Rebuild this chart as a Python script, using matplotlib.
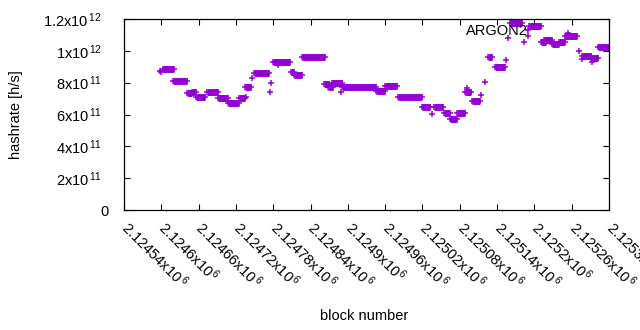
import matplotlib
matplotlib.use('Agg')
import matplotlib.pyplot as plt
from matplotlib.transforms import ScaledTranslation

plt.rcParams['font.family'] = ['Liberation Sans', 'DejaVu Sans']
plt.rcParams['mathtext.fontset'] = 'custom'
plt.rcParams['mathtext.rm'] = 'Liberation Sans'
plt.rcParams['mathtext.it'] = 'Liberation Sans:italic'

# runs of consecutive blocks with the same estimated hashrate
run_start = [2124603, 2124619, 2124642, 2124650, 2124656, 2124673, 2124691, 2124707,
             2124725, 2124735, 2124749, 2124779, 2124808, 2124814, 2124826, 2124862,
             2124868, 2124875, 2124890, 2124946, 2124960, 2124980, 2125020, 2125039,
             2125054, 2125064, 2125075, 2125089, 2125099, 2125125, 2125136, 2125161,
             2125192, 2125211, 2125216, 2125228, 2125240, 2125250, 2125277, 2125291,
             2125303]
run_end = [2124620, 2124642, 2124650, 2124656, 2124671, 2124691, 2124707, 2124725,
           2124734, 2124744, 2124773, 2124807, 2124814, 2124826, 2124863, 2124869,
           2124876, 2124891, 2124946, 2124960, 2124979, 2125019, 2125032, 2125053,
           2125064, 2125075, 2125088, 2125098, 2125113, 2125132, 2125153, 2125180,
           2125211, 2125218, 2125228, 2125240, 2125250, 2125268, 2125291, 2125302,
           2125320]
run_rate = [8.84e11, 8.09e11, 7.33e11, 7.41e11, 7.12e11, 7.43e11, 7.02e11, 6.70e11,
            7.02e11, 7.73e11, 8.59e11, 9.28e11, 8.69e11, 8.50e11, 9.59e11, 7.90e11,
            7.73e11, 7.96e11, 7.71e11, 7.50e11, 7.77e11, 7.08e11, 6.49e11, 6.45e11,
            6.08e11, 5.74e11, 6.09e11, 7.41e11, 6.87e11, 9.59e11, 9.00e11, 1.172e12,
            1.158e12, 1.055e12, 1.066e12, 1.043e12, 1.057e12, 1.095e12, 9.68e11, 9.53e11,
            1.022e12]

# single blocks off the runs
pt_block = [2124598, 2124600, 2124736, 2124746, 2124775, 2124776, 2124788, 2124889,
            2125035, 2125092, 2125114, 2125120, 2125154, 2125158, 2125184, 2125189,
            2125189, 2125254, 2125272, 2125276, 2125292]
pt_rate = [8.74e11, 8.65e11, 7.08e11, 8.27e11, 7.39e11, 7.96e11, 9.11e11, 7.43e11,
           6.03e11, 7.68e11, 7.24e11, 8.06e11, 9.42e11, 1.079e12, 1.055e12, 1.131e12,
           1.093e12, 1.112e12, 1.002e12, 9.47e11, 9.30e11]

xticks = [2124540 + 60 * i for i in range(14)]
xlabels = ['2.12454', '2.1246', '2.12466', '2.12472', '2.12478', '2.12484', '2.1249',
           '2.12496', '2.12502', '2.12508', '2.12514', '2.1252', '2.12526', '2.12532']
yticks = [0, 2e11, 4e11, 6e11, 8e11, 1e12, 1.2e12]
ylabels = ['0', '2x10$^{\\,11}$', '4x10$^{\\,11}$', '6x10$^{\\,11}$', '8x10$^{\\,11}$',
           '1x10$^{\\,12}$', '1.2x10$^{\\,12}$']

color = '#9400d3'

fig = plt.figure(figsize=(6.4, 3.3), dpi=100)
ax = fig.add_axes([124 / 640, 120 / 330, 485 / 640, 191 / 330])

ax.hlines(run_rate, run_start, run_end, colors=color, linewidth=5, capstyle='butt')
ax.plot(run_start + run_end, run_rate + run_rate, '+', color=color, markersize=5, mew=1.1,
        linestyle='none')
ax.plot(pt_block, pt_rate, '+', color=color, markersize=5, mew=1.1, linestyle='none')

ax.set_xlim(2124540, 2125320)
ax.set_ylim(0, 1.2e12)
ax.set_xticks(xticks)
ax.set_xticklabels([s + 'x10$^{\\,6}$' for s in xlabels], rotation=-45, ha='left', va='top',
                   rotation_mode='anchor', fontsize=10.5)
ax.set_yticks(yticks)
ax.set_yticklabels(ylabels, fontsize=10.5)
ax.tick_params(direction='in', length=4, width=0.8, top=True, right=True)
ax.tick_params(axis='x', pad=6)
ax.tick_params(axis='y', pad=11)
for s in ax.spines.values():
    s.set_linewidth(0.9)

# gnuplot-like placement of the tick labels
shift = ScaledTranslation(7 / 100, 0, fig.dpi_scale_trans)
for lab in ax.get_xticklabels():
    lab.set_transform(lab.get_transform() + shift)
yshift = ScaledTranslation(-7 / 100, 0, fig.dpi_scale_trans)
for lab in ax.get_yticklabels()[1:]:
    lab.set_transform(lab.get_transform() + yshift)

ax.set_xlabel('block number', fontsize=10.5)
ax.xaxis.set_label_coords((364 - 124) / 485, -(309 - 210) / 191)
ax.set_ylabel('hashrate [h/s]', fontsize=10.5)
ax.yaxis.set_label_coords(-(124 - 23) / 485, 0.5)

ax.text((528 - 124) / 485, (210 - 31) / 191, 'ARGON2', transform=ax.transAxes,
        ha='right', va='center', fontsize=10.5)

fig.savefig('out.png', dpi=100)
